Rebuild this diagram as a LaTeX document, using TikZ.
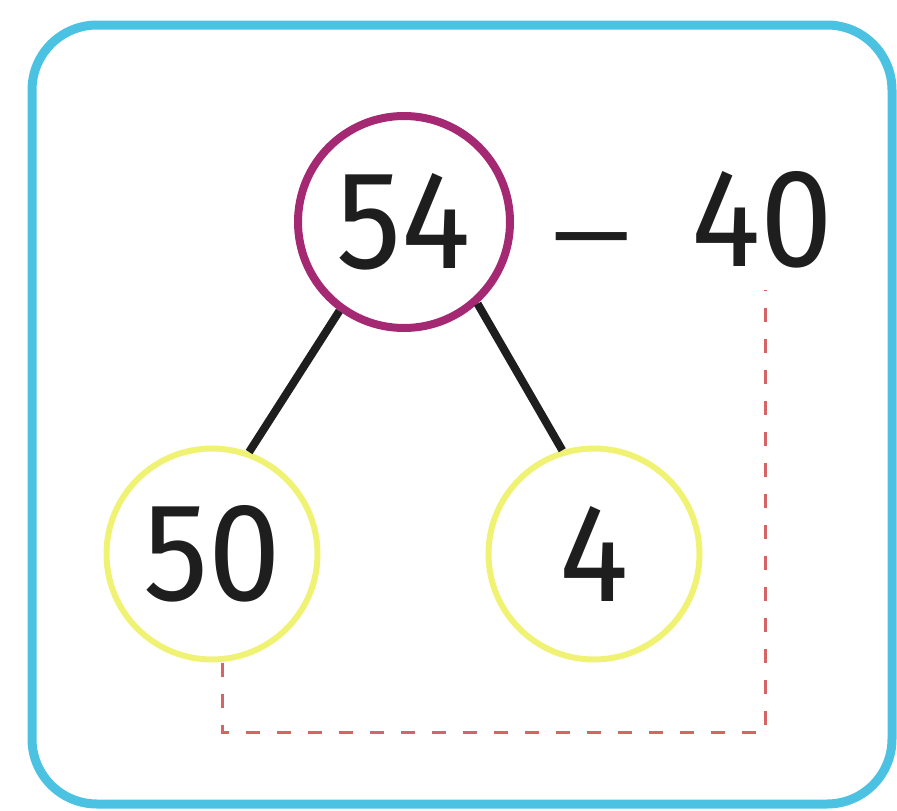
\documentclass[tikz,border=0pt]{standalone}
\usepackage{fontspec}
\setmainfont{Fira Sans}[FakeStretch=0.93]
\definecolor{framecol}{RGB}{76,194,226}
\definecolor{topcol}{RGB}{165,40,115}
\definecolor{partcol}{RGB}{240,242,115}
\definecolor{dashcol}{RGB}{215,100,100}
\definecolor{inkcol}{RGB}{30,30,30}
\tikzset{
  numtext/.style={text=inkcol, font=\fontsize{140}{140}\selectfont, inner sep=0pt},
  topcircle/.style={circle, draw=topcol, line width=8pt, minimum size=212pt, numtext},
  partcircle/.style={circle, draw=partcol, line width=6pt, minimum size=211pt, numtext},
  branch/.style={draw=inkcol, line width=8pt},
  dashline/.style={draw=dashcol, line width=3pt, dash pattern=on 14pt off 17pt},
  framebox/.style={draw=framecol, line width=9pt, rounded corners=65pt}
}
\begin{document}
\begin{tikzpicture}[x=1pt,y=-1pt]
\useasboundingbox (0,0) rectangle (897,811);
\draw[framebox] (32,25) rectangle (892,804);
\node[topcircle] (n54) at (404,222) {54};
\node[numtext, anchor=base] (minus) at (592,271) {\scalebox{1.45}[0.75]{−}};
\node[numtext] (n40) at (762,220) {40};
\node[partcircle] (n50) at (212,554) {50};
\node[partcircle] (n4) at (594,554) {4};
\draw[branch] (n54.234) -- (n50.70);
\draw[branch] (n54.312) -- (n4.107);
\coordinate (dbl) at (222,732);
\coordinate (dbr) at (765,732);
\coordinate (dtop) at (765,290);
\draw[dashline] ([xshift=10pt]n50.south) -- (dbl) -- (dbr) -- (dtop);
\end{tikzpicture}
\end{document}
